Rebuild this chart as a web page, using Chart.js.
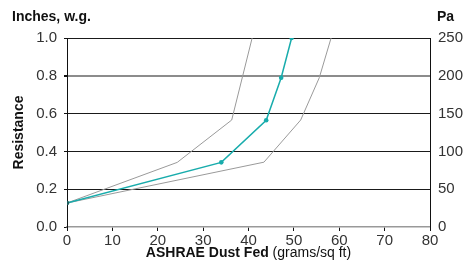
<!DOCTYPE html>
<html lang="en">
<head>
    <meta charset="UTF-8">
    <title>Resistance vs ASHRAE Dust Fed</title>
    <script src="https://cdn.jsdelivr.net/npm/chart.js"></script>
    <style>
        html, body {
            margin: 0;
            padding: 0;
            background: #fff;
        }
        .chart-box {
            position: relative;
            width: 463px;
            height: 266px;
        }
    </style>
</head>
<body>
    <div class="chart-box">
        <canvas id="dustChart"></canvas>
    </div>

    <script>
        // values
        const dustFed = [0, 34, 43.9, 47.2, 49.5];
        const resistance = [0.127, 0.342, 0.565, 0.79, 1.0];
        const upperDust = [0, 24.3, 36.3, 40.8];
        const upperRes = [0.127, 0.342, 0.566, 1.0];
        const lowerDust = [0, 43.4, 51.5, 55.6, 58.2];
        const lowerRes = [0.127, 0.343, 0.566, 0.79, 1.0];
        const paTicks = [0, 50, 100, 150, 200, 250];

        const fontFam = "'Liberation Sans', Arial, sans-serif";

        function toPoints(xs, ys) {
            return xs.map((x, i) => ({ x: x, y: ys[i] }));
        }

        // unit labels above the axes and the mixed-weight x title
        const extraText = {
            id: 'extraText',
            afterDraw(chart) {
                const ctx = chart.ctx;
                const area = chart.chartArea;
                ctx.save();
                ctx.fillStyle = '#111';
                ctx.textBaseline = 'alphabetic';
                ctx.font = 'bold 14px ' + fontFam;
                ctx.textAlign = 'left';
                ctx.fillText('Inches, w.g.', 12, 21);
                ctx.fillText('Pa', 437, 21);

                const boldPart = 'ASHRAE Dust Fed';
                const normalPart = ' (grams/sq ft)';
                ctx.font = 'bold 14px ' + fontFam;
                const w1 = ctx.measureText(boldPart).width;
                ctx.font = '14px ' + fontFam;
                const w2 = ctx.measureText(normalPart).width;
                const startX = (area.left + area.right) / 2 - (w1 + w2) / 2;
                ctx.font = 'bold 14px ' + fontFam;
                ctx.fillText(boldPart, startX, 257);
                ctx.font = '14px ' + fontFam;
                ctx.fillText(normalPart, startX + w1, 257);
                ctx.restore();
            }
        };

        new Chart(document.getElementById('dustChart'), {
            type: 'line',
            data: {
                datasets: [
                    {
                        label: 'Resistance',
                        data: toPoints(dustFed, resistance),
                        borderColor: '#18acac',
                        borderWidth: 1.5,
                        pointRadius: 2.3,
                        pointBackgroundColor: c => c.dataIndex === 0 ? '#1d5c5c' : '#18acac',
                        pointBorderWidth: 0,
                        tension: 0
                    },
                    {
                        label: 'Upper',
                        data: toPoints(upperDust, upperRes),
                        borderColor: '#9a9a9a',
                        borderWidth: 1,
                        pointRadius: 0,
                        tension: 0
                    },
                    {
                        label: 'Lower',
                        data: toPoints(lowerDust, lowerRes),
                        borderColor: '#9a9a9a',
                        borderWidth: 1,
                        pointRadius: 0,
                        tension: 0
                    }
                ]
            },
            options: {
                responsive: true,
                maintainAspectRatio: false,
                animation: false,
                layout: { padding: { top: 38, left: 0, right: 0, bottom: 0 } },
                plugins: {
                    legend: { display: false },
                    tooltip: { enabled: false }
                },
                scales: {
                    x: {
                        type: 'linear',
                        min: 0,
                        max: 80,
                        ticks: {
                            stepSize: 10,
                            color: '#333',
                            padding: 1,
                            font: { family: fontFam, size: 15 }
                        },
                        grid: {
                            drawOnChartArea: false,
                            drawTicks: true,
                            tickLength: 4,
                            tickColor: '#111'
                        },
                        border: { color: '#999', width: 1.5 },
                        afterFit(scale) { scale.height = 39; }
                    },
                    y: {
                        position: 'left',
                        min: 0,
                        max: 1,
                        ticks: {
                            stepSize: 0.2,
                            color: '#333',
                            padding: 7,
                            callback: v => v.toFixed(1),
                            font: { family: fontFam, size: 15 }
                        },
                        grid: {
                            color: c => c.tick.value === 0 ? 'rgba(0,0,0,0)' : (Math.abs(c.tick.value - 0.8) < 1e-6 ? '#8c8c8c' : '#1a1a1a'),
                            lineWidth: c => Math.abs(c.tick.value - 0.8) < 1e-6 ? 2 : 1,
                            tickLength: 3,
                            tickColor: '#111'
                        },
                        border: { color: '#111', width: 1 },
                        title: {
                            display: true,
                            text: 'Resistance',
                            color: '#111',
                            padding: { top: 11, bottom: 0 },
                            font: { family: fontFam, size: 14, weight: 'bold' }
                        },
                        afterFit(scale) { scale.width = 67; }
                    },
                    y2: {
                        position: 'right',
                        min: 0,
                        max: 250,
                        afterBuildTicks(scale) {
                            scale.ticks = paTicks.map(v => ({ value: v }));
                        },
                        ticks: {
                            color: '#333',
                            padding: 8,
                            font: { family: fontFam, size: 15 }
                        },
                        grid: { drawOnChartArea: false, drawTicks: false },
                        border: { color: '#111', width: 1 },
                        afterFit(scale) { scale.width = 33; }
                    }
                }
            },
            plugins: [extraText]
        });
    </script>
</body>
</html>
